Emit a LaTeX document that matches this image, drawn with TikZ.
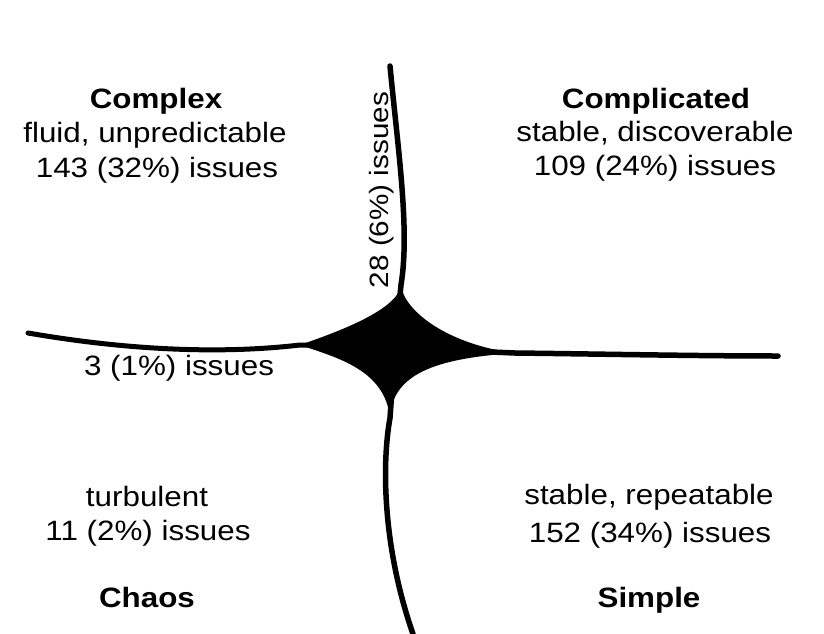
\documentclass[tikz,border=0pt]{standalone}
\usepackage{fontspec}
\setmainfont{Liberation Sans}[FakeStretch=1.12]
\begin{document}
\begin{tikzpicture}[x=1pt,y=-1pt,
  lbl/.style={font=\fontsize{28}{36}\selectfont, align=center, inner sep=0pt},
  ttl/.style={font=\fontsize{28}{36}\selectfont\bfseries, inner sep=0pt},
  crv/.style={line width=5.5pt, line cap=round}]
\useasboundingbox (0,0) rectangle (824,634);
\fill[white] (0,0) rectangle (824,634);
% centre blob
\coordinate (C) at (395,348);
\coordinate (T) at (401,285);
\coordinate (L) at (300,345);
\coordinate (B) at (390,418);
\coordinate (R) at (515,353);
\fill (T) .. controls (398,312) and (325,336) .. (L)
          .. controls (338,358) and (385,370) .. (B)
          .. controls (392,370) and (445,358) .. (R)
          .. controls (450,345) and (404,312) .. (T) -- cycle;
% line ends
\coordinate (topend) at (390,66);
\coordinate (botend) at (413,634);
\coordinate (leftend) at (28,333);
\coordinate (rightend) at (778,356);
\draw[crv] (topend) .. controls (398,150) and (410,230) .. (T) -- (C);
\draw[crv] (C) -- (B) .. controls (382,462) and (382,545) .. (botend);
\draw[crv, line width=5pt] (leftend) .. controls (150,354) and (240,352) .. (L) -- (C);
\draw[crv] (C) -- (R) .. controls (600,354) and (700,356) .. (rightend);
% texts
\node[ttl] (cx) at (156,101) {Complex};
\node[lbl] (cxa) at (155,135) {fluid, unpredictable};
\node[lbl] (cxb) at (157,170) {143 (32\%) issues};
\node[ttl] (cd) at (656,101) {Complicated};
\node[lbl] (cda) at (655,133) {stable, discoverable};
\node[lbl] (cdb) at (655,168) {109 (24\%) issues};
\node[lbl] (ch1) at (147,496) {turbulent};
\node[lbl] (ch2) at (148,533) {11 (2\%) issues};
\node[ttl] (ch) at (147,597) {Chaos};
\node[lbl] (sm1) at (649,497) {stable, repeatable};
\node[lbl] (sm2) at (650,535) {152 (34\%) issues};
\node[ttl] (sm) at (649,600) {Simple};
\node[lbl] (dis) at (179,368) {3 (1\%) issues};
\node[lbl, rotate=90, font=\fontsize{26.5}{32}\selectfont] (vt) at (382,190) {28 (6\%) issues};
\end{tikzpicture}
\end{document}
